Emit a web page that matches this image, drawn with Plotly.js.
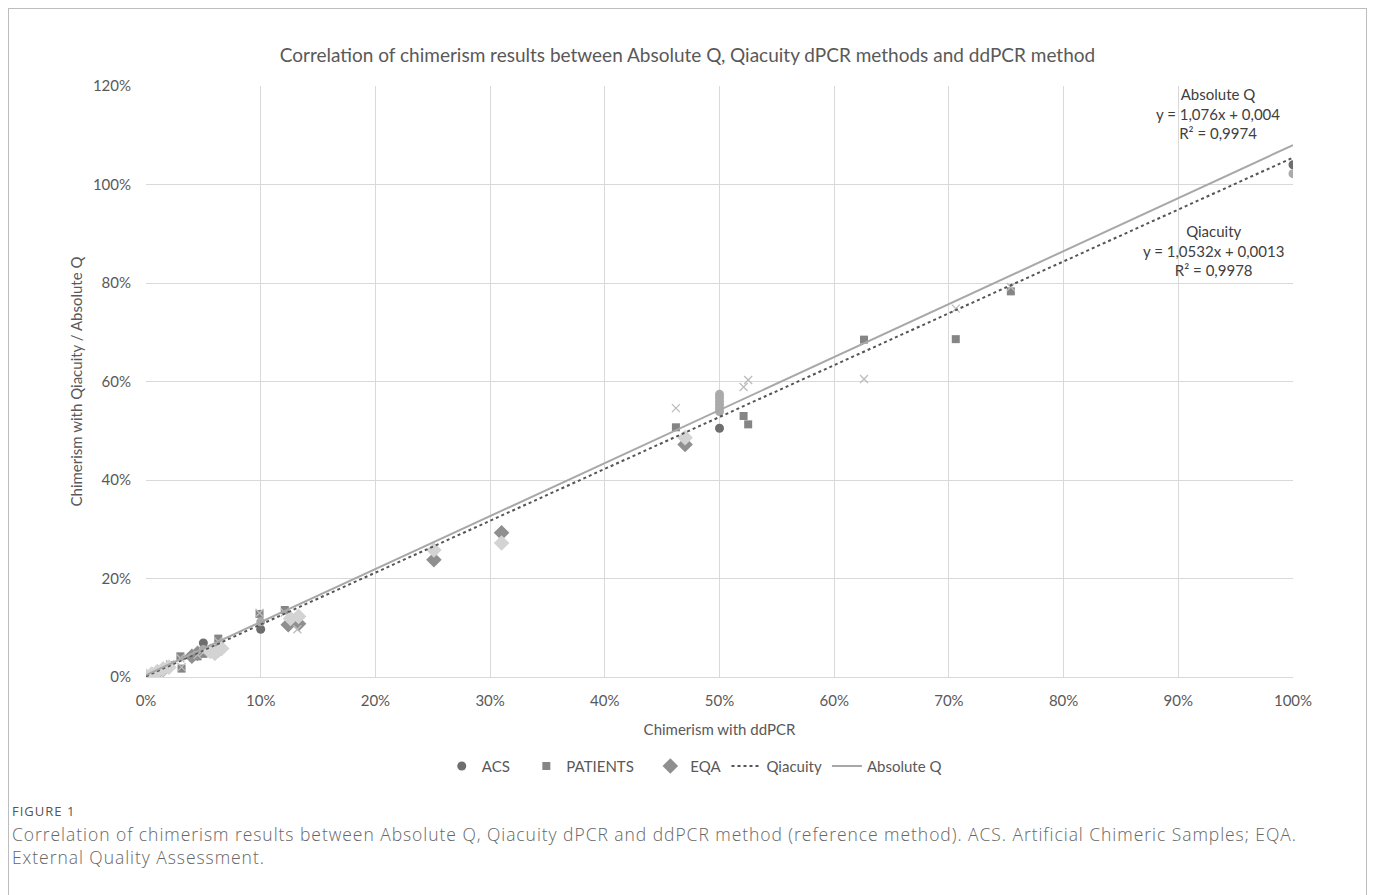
<!DOCTYPE html>
<html>
<head>
<meta charset="utf-8">
<script src="https://cdn.plot.ly/plotly-3.0.1.min.js"></script>
<style>
  html, body { margin: 0; padding: 0; background: #fff; width: 1375px; height: 895px; overflow: hidden; }
  #frame { position: absolute; left: 8px; top: 8px; width: 1359px; height: 900px; border: 1px solid #bdbdbd; box-sizing: border-box; }
  #chart { position: absolute; left: 0; top: 0; width: 1375px; height: 795px; }
  #cap { position: absolute; left: 12px; top: 802px; width: 1340px; font-family: "Open Sans", sans-serif; color: #666; }
  #fig { font-size: 13px; line-height: 19px; color: #555; letter-spacing: 1px; }
  .ln { font-size: 17.5px; line-height: 23px; font-weight: 300; white-space: nowrap; letter-spacing: 0.95px; }
  #l1 { margin-top: 2px; }
</style>
</head>
<body>
<div id="frame"></div>
<div id="chart"></div>
<div id="cap">
  <div id="fig">FIGURE 1</div>
  <div class="ln" id="l1">Correlation of chimerism results between Absolute Q, Qiacuity dPCR and ddPCR method (reference method). ACS. Artificial Chimeric Samples; EQA.</div>
  <div class="ln">External Quality Assessment.</div>
</div>
<script>
// ---- data (fractions; axis shows percent) ----
var acsX_Q = [0.001, 0.005, 0.010, 0.020, 0.050, 0.100, 0.500, 1.000];
var acsY_Q = [0.002, 0.006, 0.011, 0.021, 0.069, 0.097, 0.505, 1.040];

var acsX_A = [0.001, 0.005, 0.010, 0.020, 0.050, 0.100, 0.500, 0.500, 0.500, 0.500, 0.500, 0.500, 1.000];
var acsY_A = [0.003, 0.007, 0.012, 0.022, 0.056, 0.112, 0.574, 0.567, 0.560, 0.553, 0.546, 0.539, 1.022];

var patX_Q = [0.003, 0.008, 0.012, 0.017, 0.021, 0.030, 0.031, 0.045, 0.050, 0.055, 0.063, 0.099, 0.121, 0.462, 0.521, 0.525, 0.626, 0.706, 0.754];
var patY_Q = [0.004, 0.009, 0.014, 0.018, 0.024, 0.042, 0.017, 0.042, 0.047, 0.050, 0.078, 0.128, 0.136, 0.507, 0.530, 0.513, 0.685, 0.686, 0.783];

var patX_A = [0.003, 0.008, 0.012, 0.017, 0.021, 0.030, 0.031, 0.045, 0.050, 0.055, 0.063, 0.099, 0.121, 0.132, 0.462, 0.521, 0.525, 0.626, 0.706, 0.754];
var patY_A = [0.005, 0.010, 0.015, 0.020, 0.026, 0.038, 0.020, 0.045, 0.050, 0.053, 0.072, 0.130, 0.131, 0.097, 0.546, 0.589, 0.603, 0.605, 0.748, 0.792];

var eqaX_Q = [0.000, 0.005, 0.010, 0.015, 0.040, 0.045, 0.063, 0.124, 0.133, 0.251, 0.310, 0.470];
var eqaY_Q = [0.001, 0.005, 0.010, 0.015, 0.042, 0.048, 0.055, 0.106, 0.108, 0.238, 0.293, 0.472];

var eqaX_A = [0.000, 0.005, 0.010, 0.015, 0.020, 0.056, 0.060, 0.066, 0.126, 0.133, 0.251, 0.310, 0.470];
var eqaY_A = [0.002, 0.006, 0.011, 0.016, 0.020, 0.052, 0.048, 0.058, 0.119, 0.123, 0.258, 0.272, 0.486];

// regression lines (slope, intercept)
var trendNames = ["Qiacuity", "Absolute Q"];
var trendSlope = [1.0532, 1.076];
var trendIntercept = [0.0013, 0.004];
var trendLabels = ["Qiacuity<br>y = 1,0532x + 0,0013<br>R² = 0,9978", "Absolute Q<br>y = 1,076x + 0,004<br>R² = 0,9974"];
var trendRange = [0, 1];

var FONT = "Lato, 'Open Sans', sans-serif";
var PAD = '\u00a0\u00a0\u00a0';

function sc(name, x, y, sym, color, size, show) {
  return { type: 'scatter', mode: 'markers', name: name, x: x, y: y, showlegend: show,
    marker: { symbol: sym, color: color, size: size, line: { width: 0 } }, hoverinfo: 'x+y' };
}

var traces = [
  sc('ACS' + PAD, acsX_Q, acsY_Q, 'circle', '#6e6e6e', 9, true),
  sc('PATIENTS' + PAD, patX_Q, patY_Q, 'square', '#858585', 8, true),
  sc('EQA', eqaX_Q, eqaY_Q, 'diamond', '#8f8f8f', 12, true),
  sc('ACS Absolute Q', acsX_A, acsY_A, 'circle', '#aaaaaa', 9, false),
  sc('PATIENTS Absolute Q', patX_A, patY_A, 'x-thin-open', '#bcbcbc', 8, false),
  sc('EQA Absolute Q', eqaX_A, eqaY_A, 'diamond', '#d3d3d3', 12, false)
];
traces[4].marker.line = { width: 1.3, color: '#bcbcbc' };

var lineStyles = [
  { color: '#555555', width: 2, dash: 'dot' },
  { color: '#a8a8a8', width: 2, dash: 'solid' }
];
for (var i = 0; i < trendNames.length; i++) {
  traces.push({
    type: 'scatter', mode: 'lines', name: trendNames[i],
    x: trendRange.slice(),
    y: trendRange.map(function (v) { return trendSlope[i] * v + trendIntercept[i]; }),
    line: lineStyles[i], showlegend: true, hoverinfo: 'skip'
  });
}

var layout = {
  width: 1375, height: 795,
  margin: { l: 146, r: 82, t: 86, b: 114 },
  paper_bgcolor: 'rgba(0,0,0,0)', plot_bgcolor: '#fff',
  font: { family: FONT, color: '#595959', size: 15 },
  title: { text: 'Correlation of chimerism results between Absolute Q, Qiacuity dPCR methods and ddPCR method',
    font: { family: FONT, size: 19, color: '#595959' }, x: 0.5, xanchor: 'center', y: 0.931, yanchor: 'middle' },
  xaxis: {
    range: [0, 1], dtick: 0.1, tick0: 0, tickformat: '.0%', showgrid: true, gridcolor: '#d9d9d9', gridwidth: 1,
    zeroline: false, showline: true, linecolor: '#d9d9d9', mirror: false, ticks: '',
    ticklabelstandoff: 10, tickfont: { size: 15, color: '#595959' },
    title: { text: 'Chimerism with ddPCR', font: { size: 15, color: '#595959' }, standoff: 16 }
  },
  yaxis: {
    range: [0, 1.2], dtick: 0.2, tick0: 0, tickformat: '.0%', showgrid: true, gridcolor: '#d9d9d9', gridwidth: 1,
    zeroline: false, showline: false, ticks: '',
    ticklabelstandoff: 14, tickfont: { size: 15, color: '#595959' },
    title: { text: 'Chimerism with Qiacuity / Absolute Q', font: { size: 15, color: '#595959' }, standoff: 6 }
  },
  showlegend: true,
  legend: { orientation: 'h', x: 0.478, xanchor: 'center', y: -0.151, yanchor: 'middle',
    font: { size: 15, color: '#595959' }, itemwidth: 30, traceorder: 'normal', bgcolor: 'rgba(0,0,0,0)' },
  annotations: [
    { x: 0.931, y: 0.865, xref: 'x', yref: 'y', text: trendLabels[0], showarrow: false, align: 'center',
      font: { size: 15, color: '#404040' }, xanchor: 'center', yanchor: 'middle' },
    { x: 0.935, y: 1.145, xref: 'x', yref: 'y', text: trendLabels[1], showarrow: false, align: 'center',
      font: { size: 15, color: '#404040' }, xanchor: 'center', yanchor: 'middle' }
  ]
};

Plotly.newPlot('chart', traces, layout, { displayModeBar: false, staticPlot: true });
</script>
</body>
</html>
